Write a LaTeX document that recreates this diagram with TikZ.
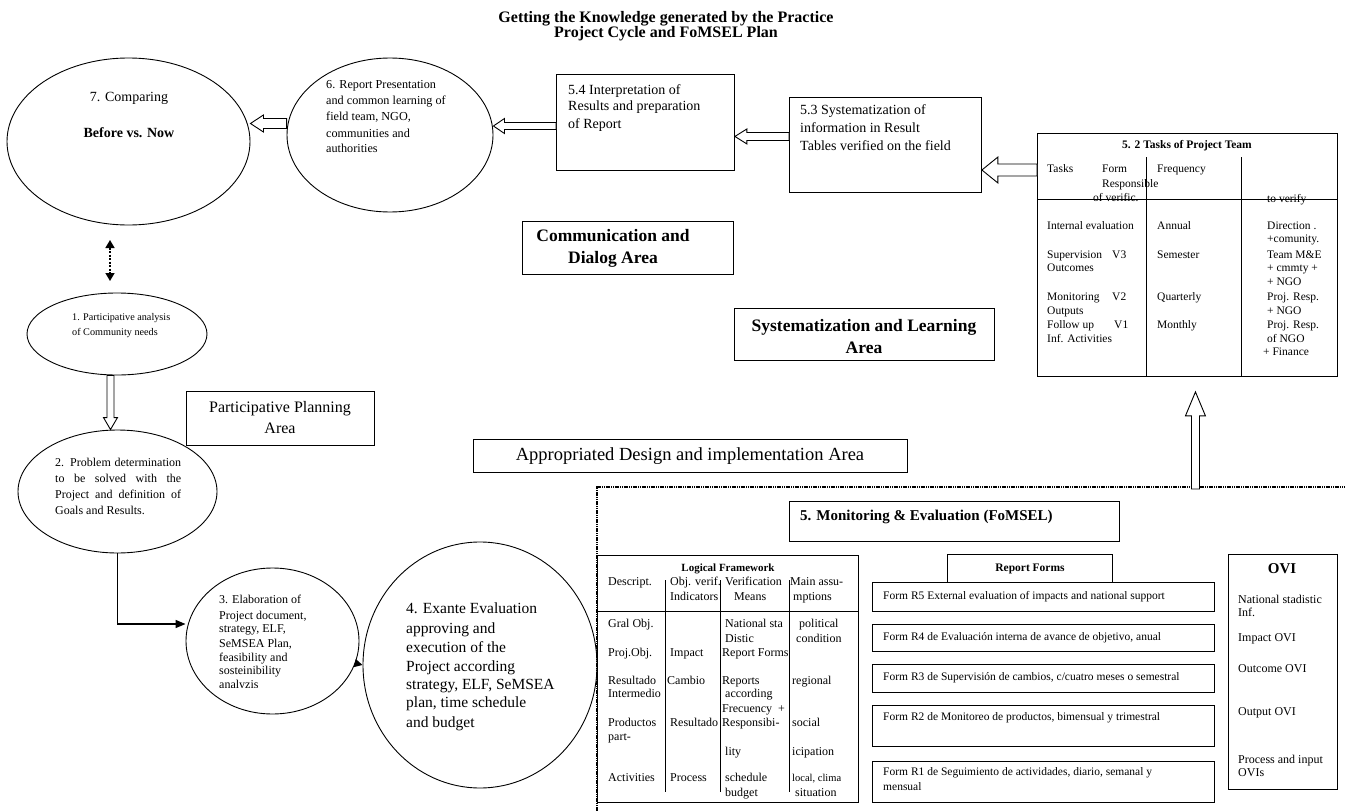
\documentclass[tikz,border=0pt]{standalone}
\usepackage{fontspec}
\setmainfont{Liberation Serif}
\usetikzlibrary{arrows.meta,shapes.geometric,calc}

% hollow block arrows: tip, tail anchor, shaft half width, head half width, head length
\newcommand\leftblock[5]{\draw[hollow] (#1) -- ([shift={(#5,-#4)}]#1) -- ([shift={(#5,-#3)}]#1)
  -- ($(#1 -| #2)+(0,-#3)$) -- ($(#1 -| #2)+(0,#3)$) -- ([shift={(#5,#3)}]#1) -- ([shift={(#5,#4)}]#1) -- cycle;}
\newcommand\vertblock[5]{\draw[hollow] (#1) -- ([shift={(-#4,#5)}]#1) -- ([shift={(-#3,#5)}]#1)
  -- ($(#1 |- #2)+(-#3,0)$) -- ($(#1 |- #2)+(#3,0)$) -- ([shift={(#3,#5)}]#1) -- ([shift={(#4,#5)}]#1) -- cycle;}

\begin{document}
\begin{tikzpicture}[x=1pt,y=-1pt,
  ln/.style={inner sep=0pt,anchor=west,font=\fontsize{#1}{#1}\selectfont,text height=0.7*#1,text depth=0.2*#1},
  lnb/.style={ln=#1,font=\fontsize{#1}{#1}\selectfont\bfseries},
  bubble/.style={draw,ellipse,inner sep=0pt,line width=0.9pt},
  box/.style={draw,rectangle,inner sep=0pt,line width=0.9pt,anchor=north west},
  hollow/.style={draw,fill=white,line width=0.9pt,line join=miter},
  flow/.style={line width=1.4pt,-{Triangle[length=10pt,width=8pt]}}]
\useasboundingbox (0,0) rectangle (1345,811);

% title
\node[lnb=16,anchor=center] (head1) at (666,18) {Getting the Knowledge generated by the Practice};
\node[lnb=16,anchor=center] (head2) at (666,33) {Project Cycle and FoMSEL Plan};

% cycle bubbles
\node[bubble,minimum width=243,minimum height=167] (e7) at (128.5,141.5) {};
\node[bubble,minimum width=206,minimum height=154] (e6) at (390,135) {};
\node[bubble,minimum width=180,minimum height=82] (e1) at (117,334) {};
\node[bubble,minimum width=199,minimum height=123] (e2) at (117.5,491.5) {};
\node[bubble,minimum width=173,minimum height=146] (e3) at (272.5,641) {};
\node[bubble,minimum width=234,minimum height=246] (e4) at (480,665) {};

% boxes
\node[box,minimum width=178,minimum height=96] (b54) at (556,74) {};
\node[box,minimum width=192,minimum height=95] (b53) at (789,97) {};
\node[box,minimum width=211,minimum height=53] (comm) at (522,221) {};
\node[box,minimum width=260,minimum height=52] (syst) at (734,308) {};
\node[box,minimum width=188,minimum height=54] (plan) at (186,391) {};
\node[box,minimum width=434,minimum height=33] (impl) at (473,439) {};
\node[box,minimum width=300,minimum height=243] (t52) at (1037,133) {};

% texts of the cycle
\node[ln=14,anchor=center] (s7-1) at (129,98) {7. Comparing};
\node[lnb=14,anchor=center] (s7-2) at (129,134) {Before vs. Now};
\foreach \y/\t [count=\i] in {85/{6. Report Presentation},101/{and common learning of},117/{field team, NGO,},134/{communities and},149/{authorities}}
  \node[ln=12.2] (s6-\i) at (326,\y) {\t};
\foreach \y/\t [count=\i] in {91/{5.4 Interpretation of},107/{Results and preparation},125/{of Report}}
  \node[ln=14] (s54-\i) at (568,\y) {\t};
\foreach \y/\t [count=\i] in {111/{5.3 Systematization of},129/{information in Result},147/{Tables verified on the field}}
  \node[ln=14] (s53-\i) at (800,\y) {\t};
\node[ln=10.2] (s1-1) at (72,318) {1. Participative analysis};
\node[ln=10.2] (s1-2) at (72,333) {of Community needs};
\foreach \y/\t [count=\i] in {463/{2. Problem determination},479/{to be solved with the},495/{Project and definition of}}
  \node[ln=12] (s2-\i) at (55,\y) {\makebox[126pt][s]{\t}};
\node[ln=12] (s2-4) at (55,511) {Goals and Results.};
\begin{scope}
\clip (200,590) rectangle (340,687);
\foreach \y/\t [count=\i] in {600/{3. Elaboration of},616/{Project document,},629/{strategy, ELF,},644/{SeMSEA Plan,},658/{feasibility and},671/{sosteinibility},685/{analyzis}}
  \node[ln=12] (s3-\i) at (219,\y) {\t};
\end{scope}
\foreach \y/\t [count=\i] in {610/{4. Exante Evaluation},630/{approving and},649/{execution of the},668/{Project according},686/{strategy, ELF, SeMSEA},704/{plan, time schedule},724/{and budget}}
  \node[ln=15.5] (s4-\i) at (406,\y) {\t};

% area labels
\node[lnb=17.5,anchor=center] (comm1) at (613,237) {Communication and};
\node[lnb=17.5,anchor=center] (comm2) at (613,259) {Dialog Area};
\node[lnb=17.5,anchor=center] (syst1) at (864,327) {Systematization and Learning};
\node[lnb=17.5,anchor=center] (syst2) at (864,349) {Area};
\node[ln=16,anchor=center] (plan1) at (280,408) {Participative Planning};
\node[ln=16,anchor=center] (plan2) at (280,429) {Area};
\node[ln=18.5,anchor=center] (impl1) at (690,456) {Appropriated Design and implementation Area};

% 5.2 table
\draw[line width=0.9pt] (1146,157) -- (1146,376) (1241,157) -- (1241,376) (1037,199) -- (1337,199);
\node[lnb=11.5,anchor=center] (t52h) at (1187,146) {5. 2 Tasks of Project Team};
\foreach \x/\y/\t [count=\i] in {1047/170/Tasks,1102/170/Form,1157/170/Frequency,1102/185/Responsible,
    1093/199/{of verific.},1267/200/{to verify},1047/227/{Internal evaluation},1047/256/Supervision,1112/256/V3,
    1047/269/Outcomes,1047/298/Monitoring,1112/298/V2,1047/312/Outputs,1047/326/{Follow up},1114/326/V1,
    1047/340/{Inf. Activities},1157/227/Annual,1157/256/Semester,1157/298/Quarterly,1157/326/Monthly,
    1267/227/{Direction .},1267/240/{+comunity.},1267/256/{Team M\&E},1267/269/{+ cmmty +},1267/283/{+ NGO},
    1267/298/{Proj. Resp.},1267/312/{+ NGO},1267/326/{Proj. Resp.},1267/340/{of NGO},1263/353/{+ Finance}}
  \node[ln=11.5] (tk\i) at (\x,\y) {\t};

% monitoring frame
\draw[line width=2pt,dash pattern=on 1.2pt off 0.6pt] (597,815) |- (1350,487);
\node[box,minimum width=330,minimum height=40] (m5) at (789,501) {};
\node[lnb=15] (m5t) at (800,517) {5. Monitoring \& Evaluation (FoMSEL)};

% logical framework
\node[box,minimum width=261,minimum height=247] (lf) at (597,555) {};
\draw[line width=0.9pt] (597,611) -- (858,611);
\foreach \x in {665,720,789} \draw[line width=0.9pt] (\x,580) -- (\x,792);
\node[lnb=11,anchor=center] (lfh) at (728,569) {Logical Framework};
\foreach \x/\y/\t [count=\i] in {608/582/Descript.,670/582/{Obj. verif.},670/597/Indicators,725/582/Verification,
    734/597/Means,790/582/{Main assu-},793/597/mptions,608/624/{Gral Obj.},608/653/{Proj.Obj.},
    608/681/Resultado,608/694/Intermedio,608/723/Productos,608/737/part-,608/778/Activities,
    670/653/Impact,667/681/Cambio,670/723/Resultado,670/778/Process,725/624/{National sta},725/639/Distic,
    722/653/{Report Forms},722/681/Reports,725/694/according,722/709/{Frecuency\ \ +},722/723/Responsibi-,
    725/752/lity,725/778/schedule,725/793/budget,799/624/political,796/639/condition,792/681/regional,
    792/723/social,792/752/icipation,795/793/situation}
  \node[ln=12] (lf\i) at (\x,\y) {\t};
\node[ln=10.5] (lfx) at (792,779) {local, clima};

% report forms
\foreach \n/\t/\b in {5/582/611,4/624/651,3/664/692,2/705/746,1/761/802}
  \node[box,minimum width=342,minimum height=\b-\t] (r\n) at (872,\t) {};
\node[box,minimum width=165,minimum height=28] (rfh) at (947,554) {};
\node[lnb=11.5,anchor=center] (rfht) at (1030,569) {Report Forms};
\node[ln=11.5] (r5t) at (883,597) {Form R5 External evaluation of impacts and national support};
\node[ln=11.5] (r4t) at (883,638) {Form R4 de Evaluación interna de avance de objetivo, anual};
\node[ln=11.5] (r3t) at (883,678) {Form R3 de Supervisión de cambios, c/cuatro meses o semestral};
\node[ln=11.5] (r2t) at (883,718) {Form R2 de Monitoreo de productos, bimensual y trimestral};
\node[ln=11.5] (r1t) at (883,773) {Form R1 de Seguimiento de actividades, diario, semanal y};
\node[ln=11.5] (r1u) at (883,788) {mensual};

% OVI
\node[box,minimum width=109,minimum height=235] (ovi) at (1228,554) {};
\node[lnb=15,anchor=center] (ovih) at (1282,570) {OVI};
\foreach \y/\t [count=\i] in {600/{National stadistic},613/Inf.,638/{Impact OVI},669/{Outcome OVI},712/{Output OVI},760/{Process and input},773/OVIs}
  \node[ln=12] (ov\i) at (1238,\y) {\t};

% connectors
\coordinate (a7) at ([yshift=18pt]e7.east);
\coordinate (a6) at ([yshift=9pt]e6.east);
\coordinate (a54) at ([yshift=-14pt]b54.east);
\coordinate (a53) at (b53.east |- tk1);
\coordinate (aup) at ([xshift=8pt,yshift=-15pt]t52.south);
\coordinate (ftop) at (1195,489);
\coordinate (a12) at ([xshift=-7pt]e2.north);
\coordinate (a23) at ([yshift=17pt]e3.west);
\coordinate (dd1) at (110,240);
\coordinate (dd2) at (110,281);
\leftblock{a7}{e6.west}{5}{8.5}{13}
\leftblock{a6}{b54.west}{3.5}{7.5}{11}
\leftblock{a54}{b53.west}{4}{7.5}{12}
\leftblock{a53}{t52.west}{6}{13}{16}
\vertblock{aup}{ftop}{4}{10}{24}
\vertblock{a12}{e1.south}{3.5}{7}{-12}
\draw[line width=1.6pt,dash pattern=on 2pt off 1.5pt,{Triangle[length=8pt,width=9pt]}-{Triangle[length=8pt,width=9pt]}] (dd1) -- (dd2);
\draw[flow] (e2.south) |- (a23);
\draw[line width=1.4pt,-{Triangle[length=8pt,width=8pt]}] (e3.-15) -- (e4.west);
\end{tikzpicture}
\end{document}
